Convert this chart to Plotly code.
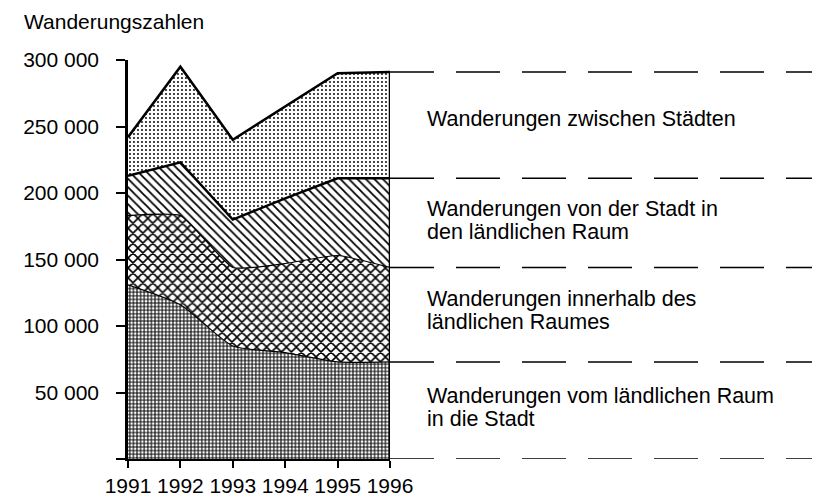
import plotly.graph_objects as go

years = [1991, 1992, 1993, 1994, 1995, 1996]
land_to_city = [131000, 116000, 85000, 80000, 73000, 73000]
within_rural = [52000, 67000, 59000, 67000, 80000, 71000]
city_to_rural = [30000, 40000, 36000, 49000, 58000, 67000]
between_cities = [29000, 72000, 60000, 69000, 79000, 80000]

y_ticks = [0, 50000, 100000, 150000, 200000, 250000, 300000]
y_ticktext = ["", "50 000", "100 000", "150 000", "200 000", "250 000", "300 000"]

labels = [
    ["Wanderungen vom ländlichen Raum", "in die Stadt"],
    ["Wanderungen innerhalb des", "ländlichen Raumes"],
    ["Wanderungen von der Stadt in", "den ländlichen Raum"],
    ["Wanderungen zwischen Städten"],
]

FONT = "Liberation Sans, Arial, Helvetica, sans-serif"

series = [
    (land_to_city, "+", 3.6, 0.5, 1.2, "spline", 0.6),
    (within_rural, "x", 7, 0.4, 1.2, "spline", 0.45),
    (city_to_rural, "\\", 6, 0.3, 2.5, "linear", 1),
    (between_cities, ".", 4, 0.18, 2.5, "linear", 1),
]

fig = go.Figure()
for i, (vals, shp, size, sol, lw, lshape, sm) in enumerate(series):
    line = dict(color="black", width=lw, shape=lshape)
    if lshape == "spline":
        line["smoothing"] = sm
    fig.add_trace(go.Scatter(
        x=years, y=vals, stackgroup="s", mode="lines",
        line=line,
        fillcolor="white",
        fillpattern=dict(shape=shp, size=size, solidity=sol, fgcolor="black",
                         bgcolor="white", fillmode="replace"),
        showlegend=False, hoverinfo="skip",
    ))

# cumulative boundaries at last year
cum = []
s = 0
for vals, *_ in series:
    s += vals[-1]
    cum.append(s)

# right edge of the stack
fig.add_trace(go.Scatter(x=[years[-1], years[-1]], y=[0, cum[-1]], mode="lines",
                         line=dict(color="black", width=2.5), showlegend=False,
                         hoverinfo="skip"))

shapes = []
for yv in [0] + cum:
    shapes.append(dict(type="line", xref="paper", yref="y", x0=1.0, x1=2.65,
                       y0=yv, y1=yv, line=dict(color="black", width=1.5, dash="44px,22px")))

annotations = []
bounds = [0] + cum
shifts = [3, 4, 2, 6]
for i, lab in enumerate(labels):
    mid = (bounds[i] + bounds[i + 1]) / 2
    n = len(lab)
    for j, line in enumerate(lab):
        off = (j - (n - 1) / 2) * 23
        annotations.append(dict(text=line, xref="paper", yref="y", x=1.133, y=mid,
                                yshift=-off + shifts[i], xanchor="left", yanchor="middle",
                                showarrow=False, font=dict(size=21.5, color="black", family=FONT)))

annotations.append(dict(text="Wanderungszahlen", xref="paper", yref="paper", x=-0.405, y=1.097,
                        xanchor="left", yanchor="middle", showarrow=False,
                        font=dict(size=21, color="black", family=FONT)))

# page body adds an 8px offset; size the figure so the plot lands where the reference has it
fig.update_layout(
    width=812, height=490,
    margin=dict(l=120, r=430, t=52, b=39),
    paper_bgcolor="white", plot_bgcolor="white",
    font=dict(family=FONT, size=21, color="black"),
    shapes=shapes, annotations=annotations,
    xaxis=dict(range=[years[0], years[-1]], tickvals=years, ticks="outside", ticklen=7,
               tickwidth=2, tickcolor="black", showline=True, linecolor="black", linewidth=2,
               showgrid=False, zeroline=False, ticklabelstandoff=0, automargin=False,
               tickfont=dict(size=21, family=FONT)),
    yaxis=dict(range=[0, 300000], tickvals=y_ticks, ticktext=y_ticktext, ticks="outside",
               ticklen=9, tickwidth=2, tickcolor="black", showline=True, linecolor="black",
               linewidth=2.5, showgrid=False, zeroline=False, ticklabelstandoff=13,
               automargin=False, tickfont=dict(size=21, family=FONT)),
)

fig.write_html("out.html")
